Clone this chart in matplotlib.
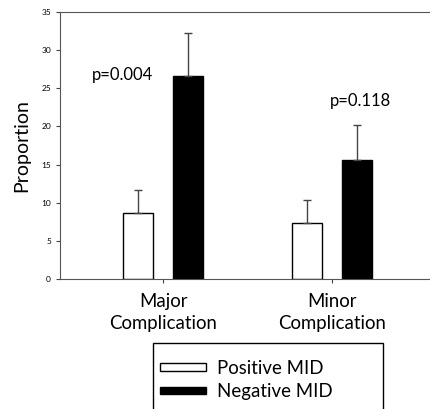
import numpy as np
import matplotlib
matplotlib.use('Agg')
import matplotlib.pyplot as plt
from matplotlib.patches import Rectangle

plt.rcParams['font.family'] = ['Lato', 'DejaVu Sans']

categories = ["Major\nComplication", "Minor\nComplication"]
positive = [8.65, 7.4]
positive_err = [3.0, 2.9]
negative = [26.6, 15.6]
negative_err = [5.6, 4.6]
pvals = ["p=0.004", "p=0.118"]

fig = plt.figure(figsize=(4.30, 4.09), dpi=100)
ax = fig.add_axes([60/430, 1-279/409, 375/430, 267/409])

x = np.arange(len(categories))
off = 0.148
w = 0.178
ax.bar(x - off, positive, w, color='white', edgecolor='black', linewidth=1,
       yerr=[np.zeros(2), positive_err], error_kw=dict(ecolor='#444444', elinewidth=1, capsize=3, capthick=1),
       label='Positive MID')
ax.bar(x + off, negative, w, color='black', edgecolor='black', linewidth=1,
       yerr=[np.zeros(2), negative_err], error_kw=dict(ecolor='#444444', elinewidth=1, capsize=3, capthick=1),
       label='Negative MID')

ax.text(-0.24, 26.7, pvals[0], ha='center', va='center', fontsize=12)
ax.text(1.17, 23.3, pvals[1], ha='center', va='center', fontsize=12)

ax.set_xlim(-0.61, 1.61)
ax.set_ylim(0, 35)
ax.set_yticks(np.arange(0, 36, 5))
ax.tick_params(axis='y', labelsize=6, length=3, color='#444444')
ax.tick_params(axis='x', labelsize=13.4, length=3, color='#444444', pad=7)
ax.set_xticks(x)
ax.set_xticklabels(categories, linespacing=1.35)
ax.set_ylabel('Proportion', fontsize=14, labelpad=8)
for s in ['left', 'top', 'bottom']:
    ax.spines[s].set_color('#555555')
ax.spines['right'].set_visible(False)

# legend box, partly cut by bottom of the picture
fig.patches.append(Rectangle((153/430, -0.005), 230/430, 1 - 343/409 + 0.005,
                             transform=fig.transFigure, facecolor='white',
                             edgecolor='black', linewidth=1))
h, l = ax.get_legend_handles_labels()
fig.legend(h, l, loc='upper left', bbox_to_anchor=(143/430, 1-343/409), frameon=False,
           fontsize=13.4, handlelength=2.5, handleheight=0.25, labelspacing=0.35,
           handletextpad=0.6)

fig.savefig('out.png', dpi=100)
